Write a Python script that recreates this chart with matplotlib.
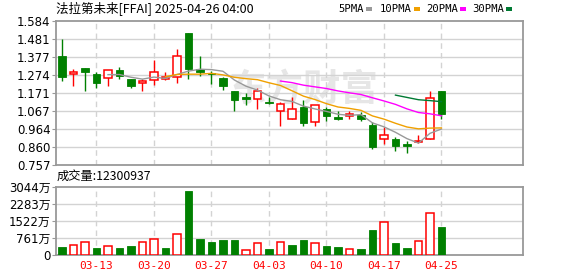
import numpy as np
import pandas as pd
import matplotlib.pyplot as plt
from matplotlib.patches import Rectangle

plt.rcParams['font.family'] = ['DejaVu Sans', 'Noto Sans CJK SC']

# -----------------------------------------------------------------------------
# Data (FFAI daily, 2025-03-10 .. 2025-04-25)
# -----------------------------------------------------------------------------

dates = ['03-10', '03-11', '03-12', '03-13', '03-14', '03-17', '03-18', '03-19',
         '03-20', '03-21', '03-24', '03-25', '03-26', '03-27', '03-28', '03-31',
         '04-01', '04-02', '04-03', '04-04', '04-07', '04-08', '04-09', '04-10',
         '04-11', '04-14', '04-15', '04-16', '04-17', '04-21', '04-22', '04-23',
         '04-24', '04-25']

opens = [1.383, 1.278, 1.314, 1.280, 1.255, 1.303, 1.251, 1.230, 1.243, 1.253,
         1.264, 1.513, 1.306, 1.287, 1.257, 1.182, 1.145, 1.134, 1.121, 1.069,
         1.023, 1.088, 1.004, 1.077, 1.031, 1.040, 1.044, 0.987, 0.908, 0.908,
         0.877, 0.889, 0.904, 1.182]
closes = [1.264, 1.291, 1.293, 1.230, 1.301, 1.268, 1.213, 1.239, 1.289, 1.260,
          1.383, 1.310, 1.293, 1.278, 1.213, 1.130, 1.134, 1.180, 1.111, 1.105,
          1.080, 1.000, 1.099, 1.040, 1.023, 1.048, 1.023, 0.860, 0.927, 0.866,
          0.866, 0.895, 1.140, 1.052]
highs = [1.481, 1.308, 1.314, 1.289, 1.303, 1.320, 1.253, 1.249, 1.360, 1.291,
         1.423, 1.513, 1.383, 1.295, 1.264, 1.184, 1.170, 1.199, 1.149, 1.119,
         1.145, 1.130, 1.099, 1.088, 1.065, 1.067, 1.061, 1.006, 0.973, 0.916,
         0.897, 0.927, 1.184, 1.182]
lows = [1.239, 1.213, 1.184, 1.201, 1.213, 1.253, 1.201, 1.184, 1.214, 1.245,
        1.230, 1.253, 1.268, 1.224, 1.188, 1.069, 1.103, 1.080, 1.105, 0.981,
        1.023, 0.981, 0.981, 1.011, 1.015, 1.023, 1.011, 0.851, 0.877, 0.837,
        0.828, 0.881, 0.904, 1.021]

# volume in 万 shares, and whether the bar is drawn as an "up" (red) bar
volumes = [356, 431, 564, 312, 386, 312, 401, 564, 698, 312, 921, 2851, 713, 579,
           668, 668, 208, 520, 267, 564, 445, 668, 520, 401, 356, 252, 267, 1114,
           1470, 535, 312, 624, 1871, 1230]
vol_up = [0, 1, 1, 0, 1, 0, 0, 1, 1, 0, 1, 0, 0, 0, 0, 0, 1, 1, 0, 1, 0, 0, 1, 0,
          0, 1, 0, 0, 1, 0, 0, 1, 1, 0]

price_ticks = [0.757, 0.8604, 0.9638, 1.0671, 1.1705, 1.2739, 1.3773, 1.4806, 1.584]
price_labels = ['0.757', '0.860', '0.964', '1.067', '1.171', '1.274', '1.377', '1.481', '1.584']
vol_ticks = [0, 761, 1522, 2283, 3044]
vol_labels = ['0', '761万', '1522万', '2283万', '3044万']
date_ticks = ['03-13', '03-20', '03-27', '04-03', '04-10', '04-17', '04-25']

ma_periods = [5, 10, 20, 30]
ma_names = ['5PMA', '10PMA', '20PMA', '30PMA']
ma_colors = ['#999999', '#f0a000', '#ff00ff', '#007a33']

title = '法拉第未来[FFAI] 2025-04-26 04:00'
last_volume = 12300937

# -----------------------------------------------------------------------------
# Figure setup
# -----------------------------------------------------------------------------

W, H = 578, 276
RED = '#ff0000'
GREEN = '#008000'
FRAME = '#999999'
GRID = '#d3d3d3'

fig = plt.figure(figsize=(W / 100, H / 100), dpi=100)
ax = fig.add_axes([56 / W, 1 - 165 / H, 467 / W, 144 / H])
axv = fig.add_axes([56 / W, 1 - 255 / H, 467 / W, 68.5 / H])

df = pd.DataFrame({'open': opens, 'close': closes, 'high': highs, 'low': lows,
                   'vol': volumes, 'vol_up': vol_up}, index=dates)
x = np.arange(len(df))
tick_pos = [dates.index(d) for d in date_ticks]

# watermark, sits behind the candles
ax.text(0.53, 0.52, '东方财富', transform=ax.transAxes, fontsize=27,
        fontweight='bold', color='#e6e6e6', ha='center', va='center', zorder=0,
        family=['Noto Sans CJK SC'])

# -----------------------------------------------------------------------------
# Candles
# -----------------------------------------------------------------------------

up = df['close'] >= df['open']
body_bottom = df[['open', 'close']].min(axis=1)
body_height = (df['close'] - df['open']).abs().clip(lower=0.003)
colors = np.where(up, RED, GREEN)

ax.vlines(x, df['low'], df['high'], colors=colors, linewidth=1.0, zorder=3)
ax.bar(x[up], body_height[up], bottom=body_bottom[up], width=0.68,
       facecolor='white', edgecolor=RED, linewidth=1.1, zorder=4)
ax.bar(x[~up], body_height[~up], bottom=body_bottom[~up], width=0.68,
       facecolor=GREEN, edgecolor=GREEN, linewidth=0.6, zorder=4)

# moving averages
for n, c in zip(ma_periods, ma_colors):
    ma = df['close'].rolling(n).mean()
    ax.plot(x, ma, color=c, linewidth=1.0, zorder=5)

# -----------------------------------------------------------------------------
# Volume
# -----------------------------------------------------------------------------

vu = df['vol_up'] == 1
axv.bar(x[vu], df['vol'][vu], width=0.68, facecolor='white', edgecolor=RED,
        linewidth=1.1, zorder=3)
axv.bar(x[~vu], df['vol'][~vu], width=0.68, facecolor=GREEN, edgecolor=GREEN,
        linewidth=0.6, zorder=3)

# -----------------------------------------------------------------------------
# Axes styling
# -----------------------------------------------------------------------------

for a in (ax, axv):
    a.set_xlim(-0.52, 40.09)
    for s in a.spines.values():
        s.set_color(FRAME)
        s.set_linewidth(1.3)
    for p in tick_pos:
        a.axvline(p, color=GRID, linestyle=(0, (4, 3)), linewidth=1.0, zorder=1)
    a.tick_params(axis='y', length=3, color=FRAME, labelsize=8.5, pad=1)
    a.tick_params(axis='x', length=0)

ax.set_ylim(price_ticks[0], price_ticks[-1])
ax.set_yticks(price_ticks)
ax.set_yticklabels(price_labels)
ax.set_xticks([])
for t in price_ticks[1:-1]:
    ax.axhline(t, color=GRID, linewidth=1.0, zorder=1)

axv.set_ylim(vol_ticks[0], vol_ticks[-1])
axv.set_yticks(vol_ticks)
axv.set_yticklabels(vol_labels, family=['DejaVu Sans', 'Noto Sans CJK SC'])
axv.set_xticks(tick_pos)
axv.set_xticklabels(date_ticks, color=RED, fontsize=8, family='DejaVu Sans Mono')
axv.tick_params(axis='x', pad=4)
for t in vol_ticks[1:-1]:
    axv.axhline(t, color=GRID, linewidth=1.0, zorder=1)

# -----------------------------------------------------------------------------
# Header texts and MA legend
# -----------------------------------------------------------------------------

fig.text(56 / W, 1 - 9 / H, title, fontsize=9, va='center', ha='left',
         family=['Noto Sans CJK SC'])
fig.text(57 / W, 1 - 176 / H, '成交量:' + str(last_volume), fontsize=8.8,
         va='center', ha='left', family=['Noto Sans CJK SC'])

legend_x = [338, 380, 426, 472]
for lx, name, c in zip(legend_x, ma_names, ma_colors):
    t = fig.text(lx / W, 1 - 9 / H, name, fontsize=7.6, va='center', ha='left',
                 family='DejaVu Sans Mono')
    sq_x = lx + 6.2 * len(name) + 3
    fig.patches.append(Rectangle((sq_x / W, 1 - 11 / H), 6 / W, 4 / H,
                                 transform=fig.transFigure, facecolor=c,
                                 edgecolor='none'))

fig.savefig('out.png', dpi=100)
